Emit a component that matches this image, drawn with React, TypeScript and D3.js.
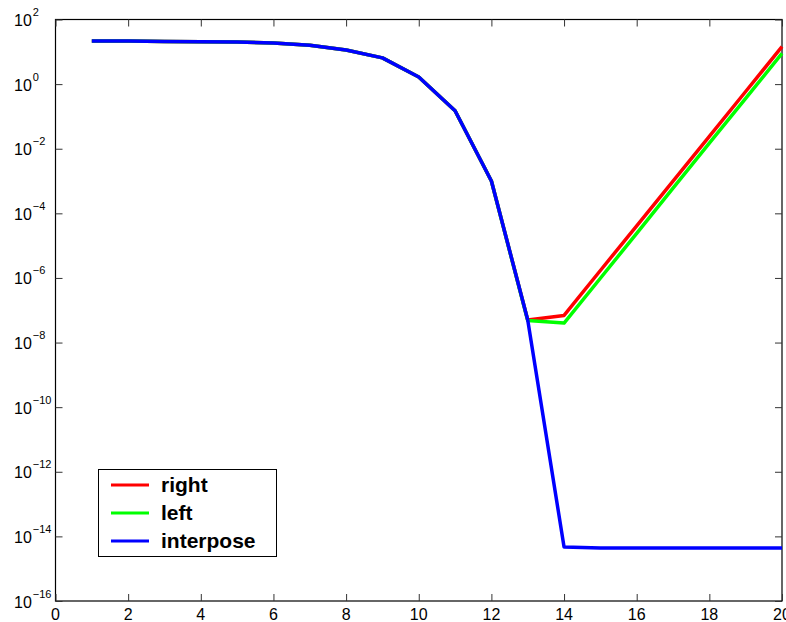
import React, { useEffect, useRef } from 'react';
import * as d3 from 'd3';

// iteration index
const steps = [1, 2, 3, 4, 5, 6, 7, 8, 9, 10, 11, 12, 13, 14, 15, 16, 17, 18, 19, 20];

const rightVals = [21.5, 21.5, 21, 20.5, 20, 18.6, 16, 11.4, 6.5, 1.66, 0.15, 1e-3, 5e-8, 6.9e-8, 1.7e-6, 4.1e-5, 1e-3, 2.4e-2, 0.59, 14.4];
const leftVals = [21.5, 21.5, 21, 20.5, 20, 18.6, 16, 11.4, 6.5, 1.66, 0.15, 1e-3, 4.8e-8, 4e-8, 9.8e-7, 2.4e-5, 6e-4, 1.5e-2, 0.36, 8.9];
const interposeVals = [21.5, 21.5, 21, 20.5, 20, 18.6, 16, 11.4, 6.5, 1.66, 0.15, 1e-3, 5e-8, 4.7e-15, 4.4e-15, 4.4e-15, 4.4e-15, 4.4e-15, 4.4e-15, 4.4e-15];

const seriesNames = ['right', 'left', 'interpose'];
const seriesColors = ['#ff0000', '#00ff00', '#0000ff'];

const xTicks = [0, 2, 4, 6, 8, 10, 12, 14, 16, 18, 20];
const yExponents = [2, 0, -2, -4, -6, -8, -10, -12, -14, -16];

const App = () => {
    const svgRef = useRef<SVGSVGElement>(null);

    useEffect(() => {
        const svg = d3.select(svgRef.current);
        svg.selectAll('*').remove();

        const width = 786;
        const height = 622;
        const margin = { top: 19.5, right: 4, bottom: 21, left: 55.5 };
        const font = '"Liberation Sans", Arial, Helvetica, sans-serif';

        const x = d3.scaleLinear()
            .domain([0, 20])
            .range([margin.left, width - margin.right]);

        const y = d3.scaleLog()
            .domain([1e-16, 1e2])
            .range([height - margin.bottom, margin.top]);

        const yTickVals = yExponents.map(e => Math.pow(10, e));

        // frame
        svg.append('rect')
            .attr('x', margin.left)
            .attr('y', margin.top)
            .attr('width', width - margin.right - margin.left)
            .attr('height', height - margin.bottom - margin.top)
            .attr('fill', 'none')
            .attr('stroke', '#000')
            .attr('stroke-width', 1.2);

        // ticks, pointing inwards on all four sides
        const tickLen = 7;
        const addAxis = (axis: any, transform: string) => {
            const g = svg.append('g')
                .attr('transform', transform)
                .call(axis);
            g.select('.domain').remove();
            g.selectAll('text').remove();
            g.selectAll('line').attr('stroke', '#333').attr('stroke-width', 1);
        };
        addAxis(d3.axisBottom(x).tickValues(xTicks).tickSize(-tickLen), `translate(0,${y.range()[0]})`);
        addAxis(d3.axisTop(x).tickValues(xTicks).tickSize(-tickLen), `translate(0,${margin.top})`);
        addAxis(d3.axisLeft(y).tickValues(yTickVals).tickSize(-tickLen), `translate(${margin.left},0)`);
        addAxis(d3.axisRight(y).tickValues(yTickVals).tickSize(-tickLen), `translate(${width - margin.right},0)`);

        // x labels
        svg.append('g')
            .selectAll('text')
            .data(xTicks)
            .enter()
            .append('text')
            .attr('x', d => x(d))
            .attr('y', 620)
            .attr('text-anchor', 'middle')
            .attr('font-family', font)
            .attr('font-size', 16)
            .text(d => d);

        // y labels: 10 with superscript exponent
        const yl = svg.append('g')
            .selectAll('text')
            .data(yExponents)
            .enter()
            .append('text')
            .attr('x', 14)
            .attr('y', d => y(Math.pow(10, d)) + 6.5)
            .attr('font-family', font)
            .attr('font-size', 16);
        yl.append('tspan').text('10');
        yl.append('tspan')
            .attr('dx', 1)
            .attr('dy', -10)
            .attr('font-size', 11)
            .text(d => (d < 0 ? '\u2212' + Math.abs(d) : String(d)));

        // lines
        const line = d3.line<number>()
            .x((_, i) => x(steps[i]))
            .y(d => y(d));

        [rightVals, leftVals, interposeVals].forEach((vals, i) => {
            svg.append('path')
                .datum(vals)
                .attr('d', line)
                .attr('fill', 'none')
                .attr('stroke', seriesColors[i])
                .attr('stroke-width', 3.5)
                .attr('stroke-linejoin', 'round');
        });

        // legend
        const lg = svg.append('g');
        lg.append('rect')
            .attr('x', 98.5)
            .attr('y', 469.5)
            .attr('width', 178)
            .attr('height', 87)
            .attr('fill', '#fff')
            .attr('stroke', '#000')
            .attr('stroke-width', 1);
        seriesNames.forEach((name, i) => {
            const ly = 485 + i * 28;
            lg.append('line')
                .attr('x1', 111)
                .attr('x2', 149)
                .attr('y1', ly)
                .attr('y2', ly)
                .attr('stroke', seriesColors[i])
                .attr('stroke-width', 3);
            lg.append('text')
                .attr('x', 161)
                .attr('y', ly + 7)
                .attr('font-family', font)
                .attr('font-weight', 'bold')
                .attr('font-size', 21)
                .text(name);
        });
    }, []);

    return (
        <svg
            ref={svgRef}
            width={786}
            height={622}
            style={{ position: 'absolute', left: 0, top: 0, background: '#fff' }}
        ></svg>
    );
};

export default App;
